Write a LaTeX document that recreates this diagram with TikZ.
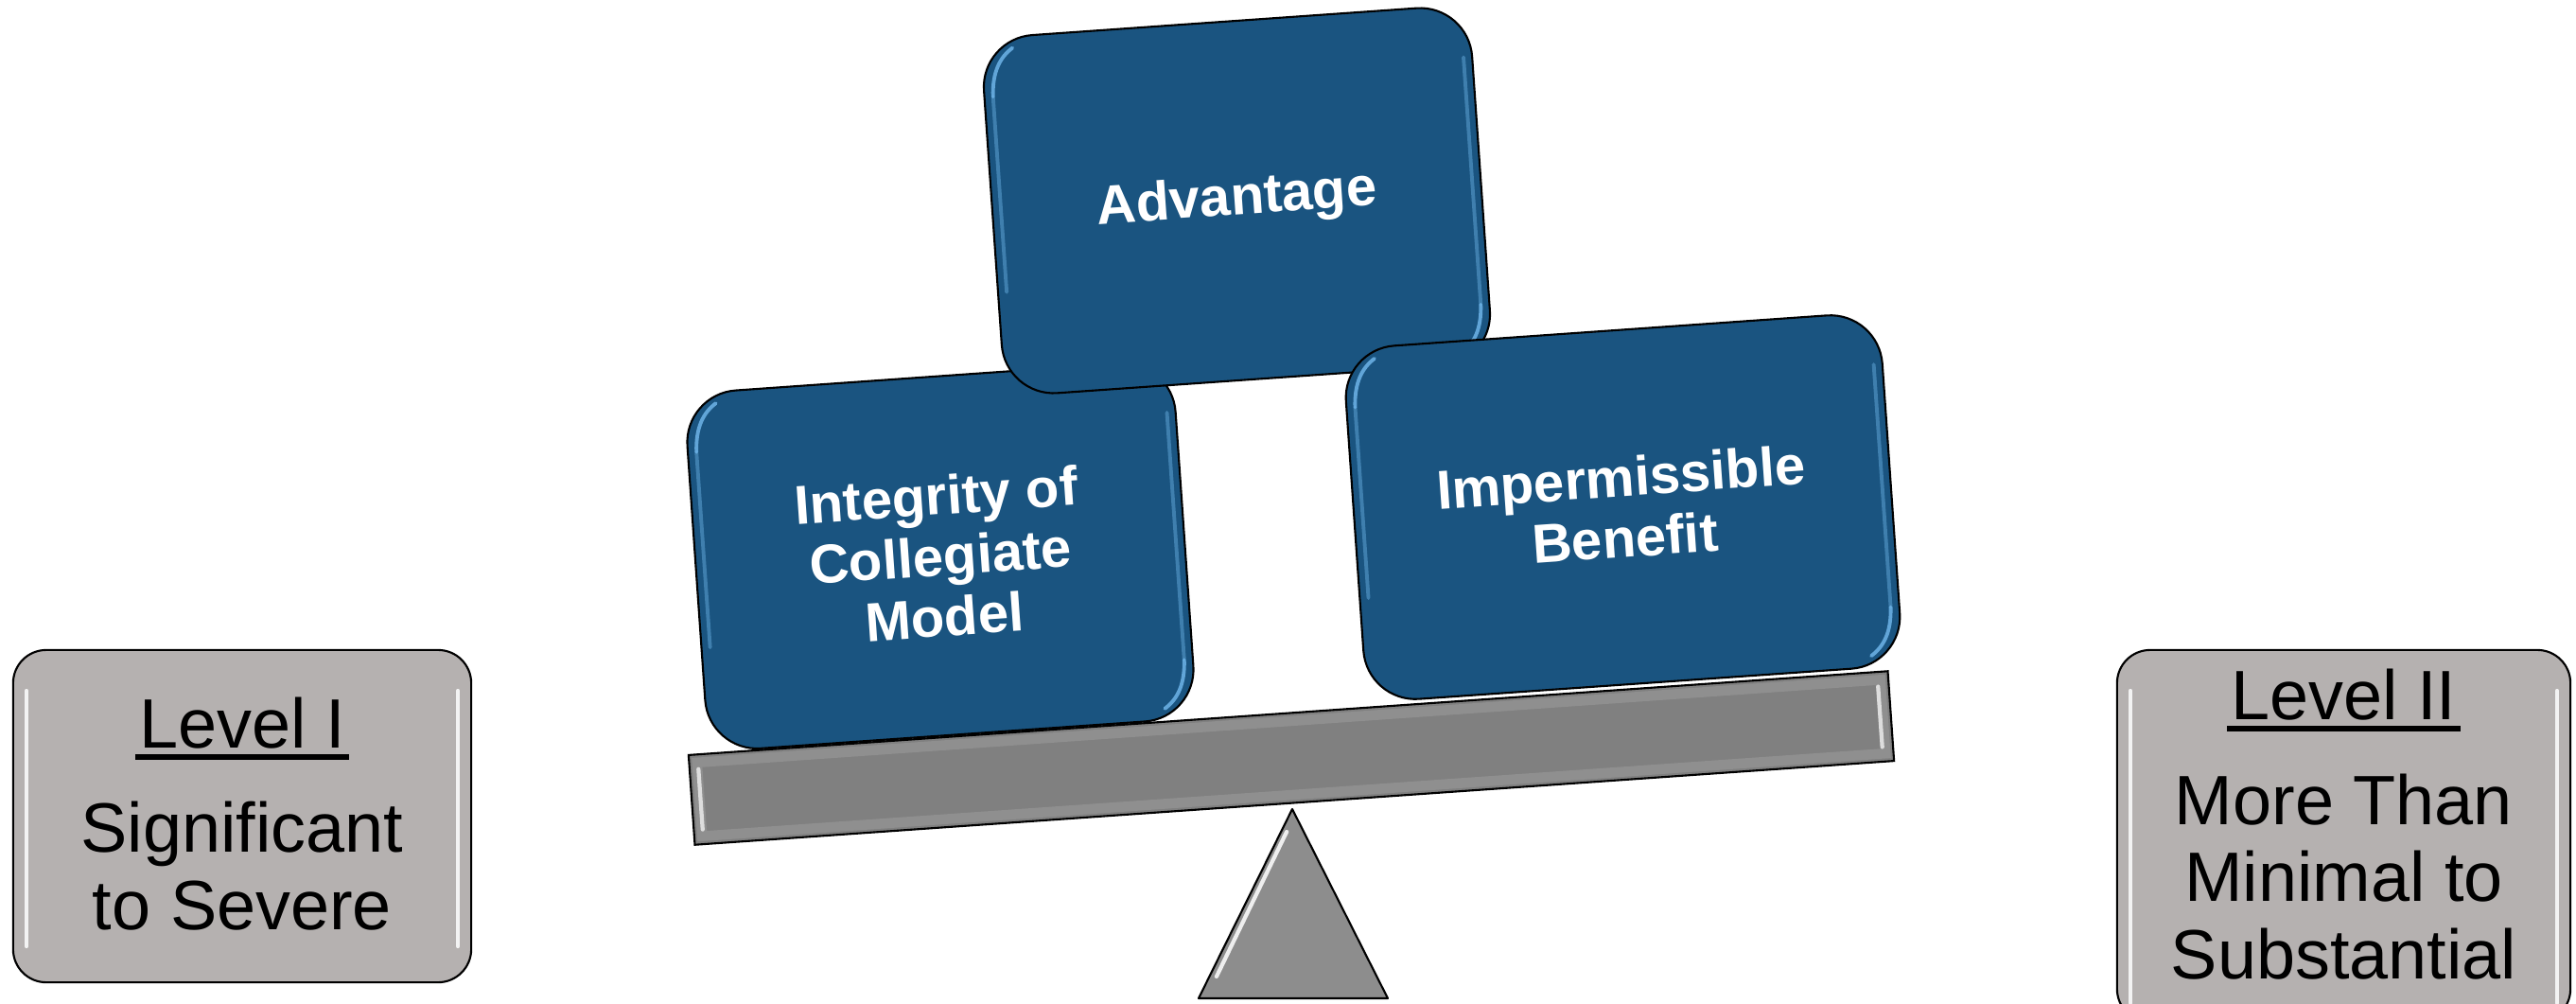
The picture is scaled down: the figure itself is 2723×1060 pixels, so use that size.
\documentclass[tikz,border=0pt]{standalone}
\usepackage{fontspec}
\setmainfont{Liberation Sans}
\usetikzlibrary{calc}
\definecolor{boxblue}{RGB}{26,84,128}
\definecolor{hiblue}{RGB}{110,180,232}
\definecolor{levelgray}{RGB}{181,177,176}
\definecolor{beamgray}{RGB}{128,128,128}
\definecolor{pivotgray}{RGB}{141,141,141}
\newsavebox\ulbox
\newcommand\ulevel[1]{\sbox\ulbox{#1}\rlap{\kern-0.06em\rule[-0.17em]{\dimexpr\wd\ulbox+0.12em\relax}{0.085em}}\usebox\ulbox}
\newcommand\boxhl[3]{%
 \begin{scope}[shift={(#1.center)}, rotate=4]
  \draw[hlblue] (-#2+9,-#3+62) .. controls (-#2+10,-#3+36) and (-#2+19,-#3+21) .. (-#2+33,-#3+12);
  \draw[hlblue, opacity=0.45] (-#2+9,-#3+62) -- (-#2+9,#3-110);
  \draw[hlblue, opacity=0.45] (#2-9,-#3+55) -- (#2-9,#3-62);
  \draw[hlblue] (#2-9,#3-62) .. controls (#2-10,#3-36) and (#2-19,#3-21) .. (#2-33,#3-12);
 \end{scope}}
\begin{document}
\begin{tikzpicture}[x=0.01cm, y=-0.01cm,
  bluebox/.style={draw=black, line width=0.6pt, fill=boxblue, rounded corners=0.55cm, rotate=4, text=white, align=center, inner sep=0pt, font=\bfseries\fontsize{16.5}{18.3}\selectfont},
  levelbox/.style={draw=black, line width=0.6pt, fill=levelgray, rounded corners=0.35cm, inner sep=0pt},
  leveltext/.style={align=center, inner sep=0pt, font=\fontsize{21}{23.3}\selectfont},
  beamstyle/.style={draw=black, line width=0.6pt, fill=beamgray, rotate=4, inner sep=0pt, minimum width=12.7cm, minimum height=0.95cm},
  hlblue/.style={draw=hiblue, line width=1.1pt, opacity=0.85, line cap=round},
  hlwhite/.style={draw=white, line width=1.2pt, opacity=0.85, line cap=round}]
\useasboundingbox (0,0) rectangle (2723,1060);

% beam
\node[beamstyle] (beam) at (1365,801) {};
\begin{scope}[shift={(beam.center)}, rotate=4]
  \draw[white, opacity=0.12, line width=3pt] (-627,-39) rectangle (627,39);
  \draw[hlwhite, opacity=0.7] (-626,-32) -- (-626,32);
  \draw[hlwhite, opacity=0.7] (624,-32) -- (624,32);
\end{scope}

% pivot
\coordinate (apex) at (1366,855);
\coordinate (baseL) at (1267,1055);
\coordinate (baseR) at (1467,1055);
\draw[draw=black, line width=0.6pt, fill=pivotgray, line join=round] (apex) -- (baseR) -- (baseL) -- cycle;
\draw[hlwhite] ($(apex)!0.12!(baseL)+(6,0)$) -- ($(apex)!0.9!(baseL)+(9,-3)$);

% blue boxes
\node[bluebox, minimum width=5.17cm, minimum height=3.79cm] (integ) at (994,587.5) {Integrity of\\Collegiate\\Model};
\boxhl{integ}{258.5}{189.5}
\node[bluebox, minimum width=5.17cm, minimum height=3.79cm] (adv) at (1307.5,212) {Advantage};
\boxhl{adv}{258.5}{189.5}
\node[bluebox, minimum width=5.68cm, minimum height=3.74cm] (imp) at (1715.5,536) {Impermissible\\Benefit};
\boxhl{imp}{284}{187}

% level boxes
\node[levelbox, minimum width=4.84cm, minimum height=3.51cm] (lv1) at (256,862.5) {};
\draw[hlwhite] (28,730) -- (28,1000);
\draw[hlwhite] (484,730) -- (484,1000);
\node[leveltext] (lv1t) at (256,860.5) {\ulevel{Level I}\\[8pt]Significant\\to Severe};

\node[levelbox, minimum width=4.79cm, minimum height=3.93cm] (lv2) at (2477.5,883.5) {};
\draw[hlwhite] (2252,730) -- (2252,1060);
\draw[hlwhite] (2703,730) -- (2703,1060);
\node[leveltext] (lv2t) at (2477.5,871.5) {\ulevel{Level II}\\[8pt]More Than\\Minimal to\\Substantial};
\end{tikzpicture}
\end{document}
